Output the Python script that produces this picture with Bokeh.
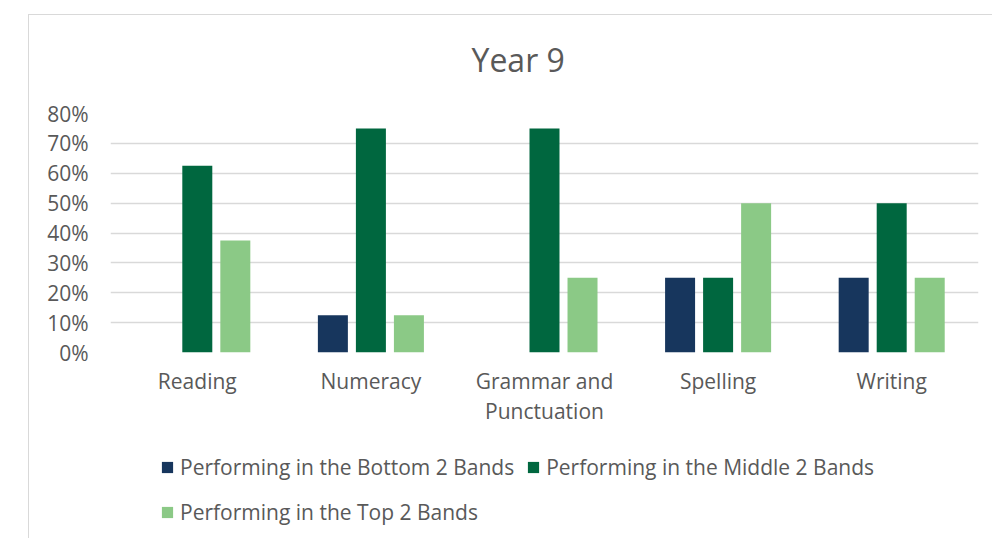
from bokeh.plotting import figure
from bokeh.layouts import column
from bokeh.models import (FactorRange, Range1d, NumeralTickFormatter, Legend, LegendItem,
                          FixedTicker, ColumnDataSource)
from bokeh.transform import dodge
from bokeh.embed import file_html
from bokeh.resources import INLINE

categories = ["Reading", "Numeracy", "Grammar and\nPunctuation", "Spelling", "Writing"]
bottom2 = [0.0, 0.125, 0.0, 0.25, 0.25]
middle2 = [0.625, 0.75, 0.75, 0.25, 0.50]
top2 = [0.375, 0.125, 0.25, 0.50, 0.25]
series_names = ["Performing in the Bottom 2 Bands",
                "Performing in the Middle 2 Bands",
                "Performing in the Top 2 Bands"]
series_colors = ["#17365D", "#00673F", "#8BC986"]
y_ticks = [0.0, 0.1, 0.2, 0.3, 0.4, 0.5, 0.6, 0.7, 0.8]
title_text = "Year 9"

FONT = "Open Sans"
GREY = "#595959"
GRID = "#d9d9d9"

src = ColumnDataSource(dict(cat=categories, b=bottom2, m=middle2, t=top2))

# ---- main chart ----
p = figure(width=992, height=430, output_backend="svg", toolbar_location=None,
           x_range=FactorRange(*categories, range_padding=0),
           y_range=Range1d(0, 0.8),
           min_border_left=110, min_border_right=14, min_border_top=113, min_border_bottom=78)
p.outline_line_color = None
p.background_fill_color = "white"
p.border_fill_color = "white"
p.stylesheets = [":host{position:relative;} :host::after{content:''; position:absolute; left:28px; top:14px; "
                 "right:0; bottom:0; border-top:1.5px solid #d9d9d9; border-left:1.5px solid #d9d9d9; "
                 "pointer-events:none;}"]

p.title.text = title_text
p.title.align = "left"
p.title.offset = 361
p.title.text_font = FONT
p.title.text_font_size = "32px"
p.title.text_font_style = "normal"
p.title.text_color = GREY
p.title.standoff = 66

bw = 0.1728
step = 0.219
rs = []
for key, off, col in zip(["b", "m", "t"], [-step, 0, step], series_colors):
    r = p.vbar(x=dodge("cat", off, range=p.x_range), top=key, width=bw, source=src,
               fill_color=col, line_color=None)
    rs.append(r)

p.yaxis.ticker = FixedTicker(ticks=y_ticks)
p.yaxis.formatter = NumeralTickFormatter(format="0%")
for ax in (p.xaxis, p.yaxis):
    ax.axis_line_color = None
    ax.major_tick_line_color = None
    ax.minor_tick_line_color = None
    ax.major_tick_in = 0
    ax.major_tick_out = 0
    ax.major_label_text_font = FONT
    ax.major_label_text_font_size = "21px"
    ax.major_label_text_color = GREY
p.yaxis.major_label_standoff = 22
p.xaxis.major_label_standoff = 14
p.xaxis.major_label_text_line_height = 1.08

p.xgrid.grid_line_color = None
p.ygrid.ticker = FixedTicker(ticks=y_ticks)
p.ygrid.grid_line_color = GRID
p.ygrid.grid_line_width = 1.5

# ---- legend strip ----
lp = figure(width=992, height=108, output_backend="svg", toolbar_location=None,
            x_range=Range1d(0, 1), y_range=Range1d(0, 1),
            x_axis_type=None, y_axis_type=None,
            min_border_left=0, min_border_right=0, min_border_top=0, min_border_bottom=0)
lp.outline_line_color = None
lp.xgrid.grid_line_color = None
lp.ygrid.grid_line_color = None
lp.stylesheets = [":host{position:relative;} :host::after{content:''; position:absolute; left:28px; top:0; "
                  "right:0; bottom:0; border-left:1.5px solid #d9d9d9; pointer-events:none;}"]

# zero-height carriers so the legend can draw its swatches
lrs = [lp.vbar(x=[0.5], top=[0.0], bottom=[0.0], width=0.0, fill_color=c, line_color=None)
       for c in series_colors]
legend = Legend(items=[LegendItem(label=n, renderers=[r]) for n, r in zip(series_names, lrs)],
                location=(50, 10), orientation="horizontal", ncols=2,
                label_text_font=FONT, label_text_font_size="21px", label_text_color=GREY,
                glyph_width=14, glyph_height=14, label_standoff=6, spacing=12,
                padding=0, margin=0, border_line_color=None, background_fill_alpha=0,
                label_height=33)
lp.add_layout(legend, "center")

layout = column(p, lp, spacing=0)
open("out.html", "w").write(file_html(layout, INLINE))
